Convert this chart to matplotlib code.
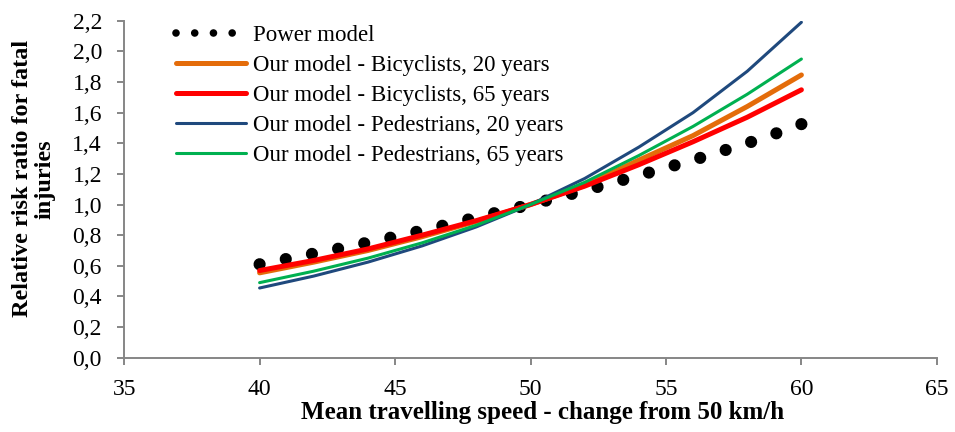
import numpy as np
import matplotlib.pyplot as plt
from matplotlib.lines import Line2D
from matplotlib.ticker import FuncFormatter

plt.rcParams['font.family'] = ['Liberation Serif', 'DejaVu Serif']

# speeds (km/h)
speed_power = [40, 41, 42, 43, 44, 45, 46, 47, 48, 49, 50,
               51, 52, 53, 54, 55, 56, 57, 58, 59, 60]
power_model = [0.61, 0.645, 0.68, 0.715, 0.752, 0.79, 0.83, 0.872, 0.915, 0.958, 1.0,
               1.045, 1.092, 1.14, 1.19, 1.24, 1.29, 1.345, 1.40, 1.46, 1.525]

speed = [40, 42, 44, 46, 48, 50, 52, 54, 56, 58, 60]
bic_20 = [0.554, 0.624, 0.70, 0.79, 0.89, 1.0, 1.125, 1.29, 1.45, 1.64, 1.846]
bic_65 = [0.569, 0.635, 0.71, 0.80, 0.895, 1.0, 1.12, 1.26, 1.41, 1.57, 1.749]
ped_20 = [0.455, 0.533, 0.624, 0.73, 0.854, 1.0, 1.17, 1.375, 1.60, 1.87, 2.19]
ped_65 = [0.49, 0.565, 0.65, 0.75, 0.865, 1.0, 1.145, 1.32, 1.51, 1.72, 1.95]

fig = plt.figure(figsize=(9.55, 4.32), dpi=100)
ax = fig.add_axes([0.130, 0.172, 0.851, 0.780])
ax.set_xlim(35, 65)
ax.set_ylim(0, 2.2)

# round-dot line, spaced so that a dot lands on both ends (22 dots)
dot_lw = 8.8
pts = ax.transData.transform(np.column_stack([speed_power, power_model]))
arc = np.sum(np.hypot(*np.diff(pts, axis=0).T))
gap = arc / 21 / (dot_lw * fig.dpi / 72) * 0.9995
ax.plot(speed_power, power_model, color='black', lw=dot_lw,
        linestyle=(0, (0.001, gap)), dash_capstyle='round')

ax.plot(speed, bic_20, color='#E46C0A', lw=3.6, solid_capstyle='round',
        label='Our model - Bicyclists, 20 years')
ax.plot(speed, bic_65, color='#FF0000', lw=3.6, solid_capstyle='round',
        label='Our model - Bicyclists, 65 years')
ax.plot(speed, ped_20, color='#1F497D', lw=2.2, solid_capstyle='round',
        label='Our model - Pedestrians, 20 years')
ax.plot(speed, ped_65, color='#00B050', lw=2.2, solid_capstyle='round',
        label='Our model - Pedestrians, 65 years')

ax.set_xticks(range(35, 66, 5))
ax.set_yticks([i * 0.2 for i in range(12)])
ax.yaxis.set_major_formatter(FuncFormatter(lambda v, p: f'{v:.1f}'.replace('.', ',')))

for s in ['top', 'right']:
    ax.spines[s].set_visible(False)
for s in ['left', 'bottom']:
    ax.spines[s].set_color('#868686')
    ax.spines[s].set_linewidth(1.4)
ax.tick_params(direction='out', length=5, width=1.4, color='#868686',
               labelsize=17, labelcolor='black')
ax.tick_params(axis='y', pad=11)
ax.tick_params(axis='x', pad=10)

ax.set_xlabel('Mean travelling speed - change from 50 km/h', fontsize=18,
              fontweight='bold')
ax.xaxis.set_label_coords(0.515, -0.128)
ax.set_ylabel('Relative risk ratio for fatal\ninjuries', fontsize=17.5,
              fontweight='bold', linespacing=1.1)
ax.yaxis.set_label_coords(-0.084, 0.531)

# legend: smaller dots for the power model, like the original
power_handle = Line2D([], [], color='black', lw=5.5,
                      linestyle=(0, (0.001, 2.45)), dash_capstyle='round')
handles, labels = ax.get_legend_handles_labels()
leg = ax.legend([power_handle] + handles, ['Power model'] + labels,
                loc='upper left', bbox_to_anchor=(0.175, 0.963),
                bbox_transform=fig.transFigure, frameon=False, fontsize=16.5,
                handlelength=3.05, handletextpad=0.3, labelspacing=0.39,
                borderaxespad=0)

fig.savefig('out.png', dpi=100)
